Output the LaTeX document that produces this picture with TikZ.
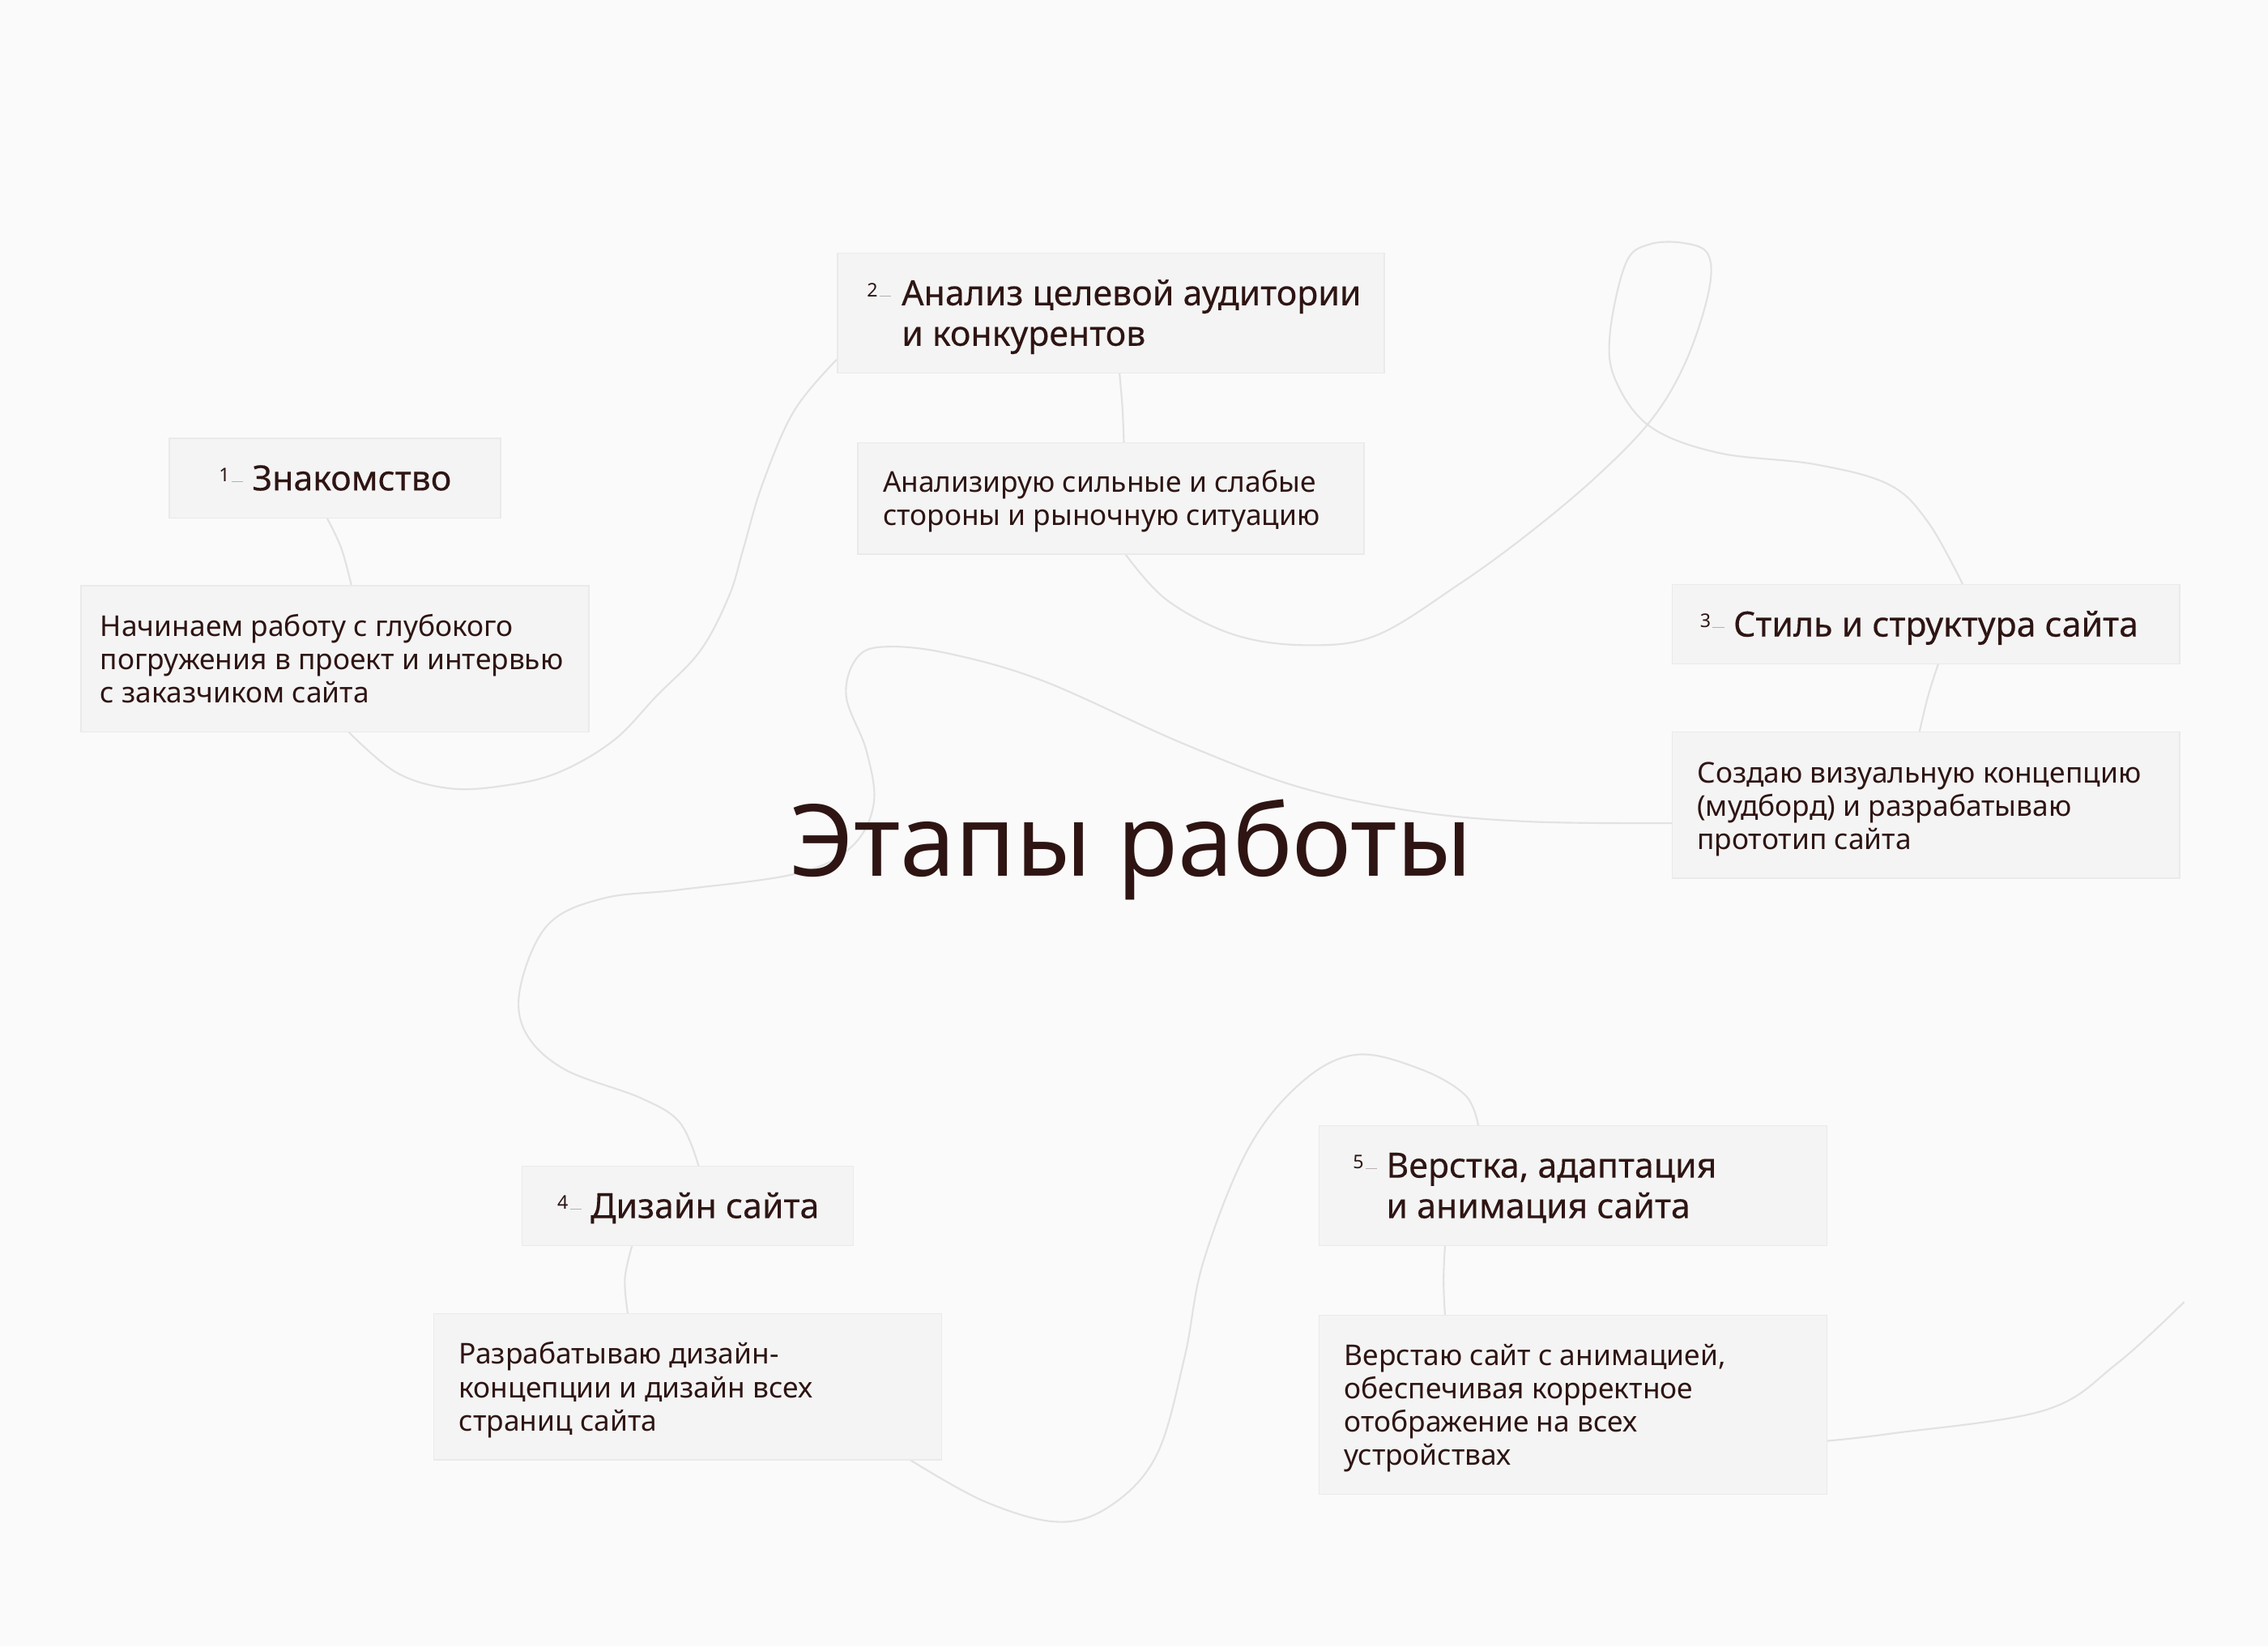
\documentclass[tikz,border=0pt]{standalone}
\usepackage{fontspec}
\setmainfont{Noto Sans}
\newfontfamily\medfont[FakeBold=0.3]{Noto Sans}
\usetikzlibrary{calc}
\pgfdeclarelayer{bottom}
\pgfdeclarelayer{background}
\pgfsetlayers{bottom,background,main}
\definecolor{bgc}{HTML}{FAFAFA}
\definecolor{boxc}{HTML}{F4F4F4}
\definecolor{boxl}{HTML}{EAEAEA}
\definecolor{txt}{HTML}{2E1513}
\definecolor{crvc}{HTML}{E2E2E2}
\definecolor{dsh}{HTML}{B8B0AE}
\newcommand\numdash{\hspace{0.6pt}\textcolor{dsh}{\rule{4pt}{0.25pt}}}
\begin{document}
\begin{tikzpicture}[x=0.5pt,y=-0.5pt,
  box/.style={draw=boxl, line width=0.4pt, fill=boxc, anchor=north west, inner sep=0pt, outer sep=0pt},
  crv/.style={draw=crvc, line width=0.6pt},
  head/.style={anchor=base west, inner sep=0pt, text=txt, font=\medfont\fontsize{12}{14}\selectfont, align=left},
  body/.style={anchor=base west, inner sep=0pt, text=txt, font=\fontsize{9.9}{11.5}\selectfont, align=left},
  num/.style={anchor=base west, inner sep=0pt, text=txt, font=\fontsize{6.5}{7}\selectfont},
  title/.style={anchor=base, inner sep=0pt, text=txt, font=\fontsize{34.4}{40}\selectfont}]

\begin{pgfonlayer}{bottom}
\fill[bgc] (0,0) rectangle (1568,1138);
\end{pgfonlayer}
\useasboundingbox (0,0) rectangle (1568,1138);

% boxes
\node[box, minimum width=114.5pt, minimum height=27.5pt] (b1t) at (117,303) {};
\node[box, minimum width=175.5pt, minimum height=50.5pt] (b1b) at (56,405) {};
\node[box, minimum width=189pt, minimum height=41.5pt] (b2t) at (579,175) {};
\node[box, minimum width=175pt, minimum height=38.5pt] (b2b) at (593,306) {};
\node[box, minimum width=175.5pt, minimum height=27.5pt] (b3t) at (1156,404) {};
\node[box, minimum width=175.5pt, minimum height=50.5pt] (b3b) at (1156,506) {};
\node[box, minimum width=114.5pt, minimum height=27.5pt] (b4t) at (361,806) {};
\node[box, minimum width=175.5pt, minimum height=50.5pt] (b4b) at (300,908) {};
\node[box, minimum width=175.5pt, minimum height=41.5pt] (b5t) at (912,778) {};
\node[box, minimum width=175.5pt, minimum height=62pt] (b5b) at (912,909) {};

% texts (base = baseline of the last line)
\node[num] (n1) at (151,333) {1\numdash};
\node[head] (h1) at (174,339) {Знакомство};
\node[body] (t1) at (69,486) {Начинаем работу с глубокого\\погружения в проект и интервью\\с заказчиком сайта};

\node[num] (n2) at (599,205) {2\numdash};
\node[head] (h2) at (623,239) {Анализ целевой аудитории\\и конкурентов};
\node[body] (t2) at (610,363) {Анализирую сильные и слабые\\стороны и рыночную ситуацию};

\node[num] (n3) at (1175,434) {3\numdash};
\node[head] (h3) at (1198,440) {Стиль и структура сайта};
\node[body] (t3) at (1173,587) {Создаю визуальную концепцию\\(мудборд) и разрабатываю\\прототип сайта};

\node[num] (n4) at (385,836) {4\numdash};
\node[head] (h4) at (408,842) {Дизайн сайта};
\node[body] (t4) at (317,989) {Разрабатываю дизайн-\\концепции и дизайн всех\\страниц сайта};

\node[num] (n5) at (935,808) {5\numdash};
\node[head] (h5) at (958,842) {Верстка, адаптация\\и анимация сайта};
\node[body] (t5) at (929,1013) {Верстаю сайт с анимацией,\\обеспечивая корректное\\отображение на всех\\устройствах};

\node[title] (ttl) at (782,605.7) {Этапы работы};

% connector end points
\coordinate (s1) at ($(b1t.south west)+(109,0)$);
\coordinate (e1) at ($(b1b.north west)+(187,0)$);
\coordinate (s2) at ($(b1b.south west)+(185,0)$);
\coordinate (e2) at ($(b2t.south west)+(0,-10)$);
\coordinate (s3) at ($(b2t.south west)+(195,0)$);
\coordinate (e3) at ($(b2b.north west)+(184,0)$);
\coordinate (s4) at ($(b2b.south west)+(185,0)$);
\coordinate (e4) at ($(b3t.north west)+(201,0)$);
\coordinate (s5) at ($(b3t.south west)+(184,0)$);
\coordinate (e5) at ($(b3b.north west)+(171,0)$);
\coordinate (s6) at ($(b3b.north west)+(0,63)$);
\coordinate (e6) at ($(b4t.north west)+(122,0)$);
\coordinate (s7) at ($(b4t.south west)+(76,0)$);
\coordinate (e7) at ($(b4b.north west)+(134,0)$);
\coordinate (s8) at ($(b4b.south west)+(329,0)$);
\coordinate (e8) at ($(b5t.north west)+(110,0)$);
\coordinate (s9) at ($(b5t.south west)+(87,0)$);
\coordinate (e9) at ($(b5b.north west)+(87,0)$);
\coordinate (s10) at ($(b5b.north east)+(0,87)$);
\coordinate (e10) at (1510,900);

\begin{pgfonlayer}{background}
\draw[crv] plot[smooth, tension=0.6] coordinates {(s1) (236,379) (e1)};
\draw[crv] plot[smooth, tension=0.6] coordinates {(s2) (274,534) (311,545) (349,543) (386,534) (424,512) (454,481) (484,450) (504,412) (514,379) (527,335) (549,284) (e2)};
\draw[crv] plot[smooth, tension=0.6] coordinates {(s3) (776,282) (e3)};
\draw[crv] plot[smooth, tension=0.6] coordinates {(s4) (807,415) (854,439) (905,446) (952,439) (1007,405) (1054,371) (1102,331) (1141,291) (1165,251) (1181,203) (1181,176) (1164,168) (1140,169) (1124,182) (1113,231) (1117,263) (1141,295) (1188,313) (1255,321) (1306,335) (1333,361) (e4)};
\draw[crv] plot[smooth, tension=0.6] coordinates {(s5) (1333,481) (e5)};
\draw[crv] plot[smooth, tension=0.6] coordinates {(s6) (1059,568) (979,561) (898,544) (818,514) (722,471) (657,452) (614,447) (593,454) (585,481) (599,519) (604,556) (588,586) (550,604) (470,615) (417,621) (379,639) (360,681) (363,713) (390,739) (443,759) (470,776) (e6)};
\draw[crv] plot[smooth, tension=0.6] coordinates {(s7) (432,884) (e7)};
\draw[crv] plot[smooth, tension=0.6] coordinates {(s8) (681,1038) (732,1052) (769,1040) (800,1005) (819,938) (832,872) (863,794) (900,748) (938,729) (982,739) (1013,757) (e8)};
\draw[crv] plot[smooth, tension=0.6] coordinates {(s9) (998,885) (e9)};
\draw[crv] plot[smooth, tension=0.6] coordinates {(s10) (1307,991) (1413,975) (1463,943) (e10)};
\end{pgfonlayer}
\end{tikzpicture}
\end{document}
